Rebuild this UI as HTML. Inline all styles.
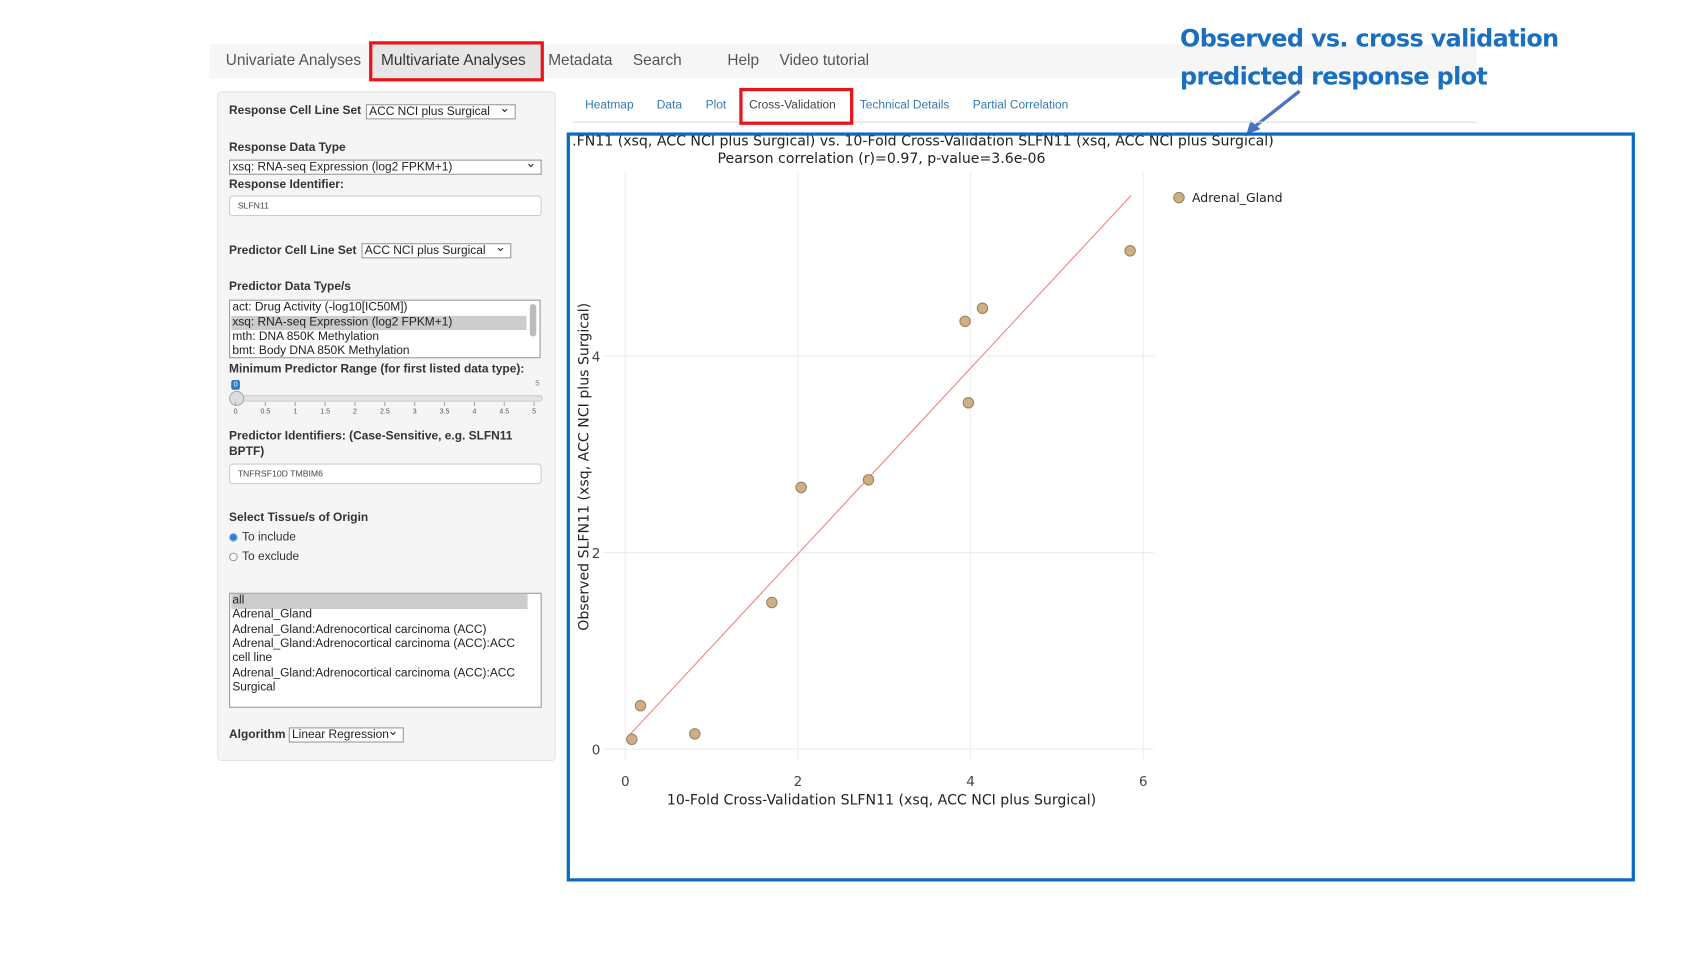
<!DOCTYPE html>
<html><head><meta charset="utf-8"><style>
html,body{margin:0;padding:0;background:#fff;width:1700px;height:956px;overflow:hidden}
#w{position:absolute;left:0;top:0;width:1566px;height:881px;transform:scale(1.0856);transform-origin:0 0;font-family:"Liberation Sans",Arial,sans-serif}
.a{position:absolute;white-space:nowrap}
.nav{color:#555;font-size:14.2px;top:48px}
.lb{font-weight:bold;font-size:11px;color:#333}
.sel{position:absolute;background:#fff;border:1px solid #999;font-size:11px;line-height:12px;padding-left:2px;box-sizing:border-box;color:#222}
.sel:after{content:"⌄";position:absolute;right:4px;top:-4px;font-size:12px}
.inp{position:absolute;background:#fff;border:1px solid #ccc;border-radius:3px;font-size:8px;color:#444;padding-left:7px;box-sizing:border-box}
.tab{color:#337ab7;font-size:11px;top:91px}
.row{position:absolute;left:1px;right:12px;font-size:11px;height:13.5px;line-height:13px;color:#222;padding-left:1px}
</style></head><body><div id="w">
<!-- navbar -->
<div class="a" style="left:193px;top:41px;width:1167px;height:31px;background:#f6f6f6"></div>
<div class="a" style="left:343px;top:41px;width:155px;height:31px;background:#e6e6e6"></div>
<div class="a nav" style="left:208px">Univariate Analyses</div>
<div class="a nav" style="left:351px;color:#333">Multivariate Analyses</div>
<div class="a nav" style="left:505px">Metadata</div>
<div class="a nav" style="left:583px">Search</div>
<div class="a nav" style="left:670px">Help</div>
<div class="a nav" style="left:718px">Video tutorial</div>
<div class="a" style="left:340px;top:38px;width:155px;height:31px;border:3px solid #e8141b"></div>
<!-- annotation -->
<div class="a" style="left:1087px;top:19px;font-family:'DejaVu Sans',sans-serif;font-weight:bold;font-size:22px;color:#1a6fc0;letter-spacing:-0.6px;line-height:35px">Observed vs. cross validation<br>predicted response plot</div>
<svg class="a" style="left:1140px;top:80px" width="70" height="50"><line x1="57" y1="4" x2="14" y2="38" stroke="#4a72c4" stroke-width="3"/><polygon points="8,44 12,31 21,39" fill="#4a72c4"/></svg>
<!-- left panel -->
<div class="a" style="left:200px;top:84px;width:310px;height:615px;background:#f5f5f5;border:1px solid #e3e3e3;border-radius:4px"></div>
<div class="a lb" style="left:211px;top:96px">Response Cell Line Set</div>
<div class="sel" style="left:337px;top:96px;width:138px;height:14px">ACC NCI plus Surgical</div>
<div class="a lb" style="left:211px;top:130px">Response Data Type</div>
<div class="sel" style="left:211px;top:147px;width:288px;height:14px">xsq: RNA-seq Expression (log2 FPKM+1)</div>
<div class="a lb" style="left:211px;top:164px">Response Identifier:</div>
<div class="inp" style="left:211px;top:180px;width:288px;height:19px;line-height:18px">SLFN11</div>
<div class="a lb" style="left:211px;top:225px">Predictor Cell Line Set</div>
<div class="sel" style="left:333px;top:224px;width:138px;height:14px">ACC NCI plus Surgical</div>
<div class="a lb" style="left:211px;top:258px">Predictor Data Type/s</div>
<div class="a" style="left:211px;top:276px;width:287px;height:54px;background:#fff;border:1px solid #999;box-sizing:border-box">
<div class="row" style="top:0">act: Drug Activity (-log10[IC50M])</div>
<div class="row" style="top:13.5px;background:#ccc">xsq: RNA-seq Expression (log2 FPKM+1)</div>
<div class="row" style="top:27px">mth: DNA 850K Methylation</div>
<div class="row" style="top:40px">bmt: Body DNA 850K Methylation</div>
<div class="a" style="right:3px;top:3px;width:6px;height:30px;background:#bbb;border-radius:3px"></div>
</div>
<div class="a lb" style="left:211px;top:334px">Minimum Predictor Range (for first listed data type):</div>
<div class="a" style="left:213px;top:350px;width:8px;height:9px;background:#2d79c7;border-radius:2px;color:#fff;font-size:7px;text-align:center;line-height:9px">0</div>
<div class="a" style="left:493px;top:350px;font-size:7px;color:#777">5</div>
<div class="a" style="left:217px;top:364px;width:281px;height:4px;background:#e4e4e4;border:1px solid #ccc;border-radius:3px"></div>
<div class="a" style="left:211px;top:360px;width:12px;height:12px;background:#ddd;border:1px solid #aaa;border-radius:50%"></div>
<svg class="a" style="left:210px;top:370px" width="295" height="16" font-family="Liberation Sans" font-size="6.5" fill="#555" text-anchor="middle">
<g stroke="#aaa"><line x1="7" y1="0" x2="7" y2="4"/><line x1="34.5" y1="0" x2="34.5" y2="4"/><line x1="62" y1="0" x2="62" y2="4"/><line x1="89.5" y1="0" x2="89.5" y2="4"/><line x1="117" y1="0" x2="117" y2="4"/><line x1="144.5" y1="0" x2="144.5" y2="4"/><line x1="172" y1="0" x2="172" y2="4"/><line x1="199.5" y1="0" x2="199.5" y2="4"/><line x1="227" y1="0" x2="227" y2="4"/><line x1="254.5" y1="0" x2="254.5" y2="4"/><line x1="282" y1="0" x2="282" y2="4"/></g>
<text x="7" y="11">0</text><text x="34.5" y="11">0.5</text><text x="62" y="11">1</text><text x="89.5" y="11">1.5</text><text x="117" y="11">2</text><text x="144.5" y="11">2.5</text><text x="172" y="11">3</text><text x="199.5" y="11">3.5</text><text x="227" y="11">4</text><text x="254.5" y="11">4.5</text><text x="282" y="11">5</text></svg>
<div class="a lb" style="left:211px;top:395px;line-height:14px">Predictor Identifiers: (Case-Sensitive, e.g. SLFN11<br>BPTF)</div>
<div class="inp" style="left:211px;top:427px;width:288px;height:19px;line-height:18px">TNFRSF10D TMBIM6</div>
<div class="a lb" style="left:211px;top:471px">Select Tissue/s of Origin</div>
<div class="a" style="left:211px;top:491px;width:6px;height:6px;border-radius:50%;background:#2a7de1;border:1px solid #8bb"></div>
<div class="a" style="left:223px;top:489px;font-size:11px;color:#333">To include</div>
<div class="a" style="left:211px;top:509px;width:6px;height:6px;border-radius:50%;background:#fff;border:1px solid #999"></div>
<div class="a" style="left:223px;top:507px;font-size:11px;color:#333">To exclude</div>
<div class="a" style="left:211px;top:546px;width:288px;height:106px;background:#fff;border:1px solid #999;box-sizing:border-box">
<div class="row" style="top:0;background:#ccc">all</div>
<div class="row" style="top:13.3px">Adrenal_Gland</div>
<div class="row" style="top:26.6px">Adrenal_Gland:Adrenocortical carcinoma (ACC)</div>
<div class="row" style="top:40px">Adrenal_Gland:Adrenocortical carcinoma (ACC):ACC</div>
<div class="row" style="top:53.3px">cell line</div>
<div class="row" style="top:66.6px">Adrenal_Gland:Adrenocortical carcinoma (ACC):ACC</div>
<div class="row" style="top:80px">Surgical</div>
</div>
<div class="a lb" style="left:211px;top:671px">Algorithm</div>
<div class="sel" style="left:266px;top:670px;width:106px;height:14px">Linear Regression</div>
<!-- tabs -->
<div class="a" style="left:527px;top:112px;width:833px;height:1px;background:#ddd"></div>
<div class="a tab" style="left:539px">Heatmap</div>
<div class="a tab" style="left:605px">Data</div>
<div class="a tab" style="left:650px">Plot</div>
<div class="a tab" style="left:690px;color:#444">Cross-Validation</div>
<div class="a tab" style="left:792px">Technical Details</div>
<div class="a tab" style="left:896px">Partial Correlation</div>
<div class="a" style="left:681px;top:81px;width:99px;height:28px;border:3px solid #e8141b"></div>
<!-- plot -->
<svg class="a" style="left:0;top:0" width="1566" height="881" font-family="'DejaVu Sans',sans-serif">
<g stroke="#eee" stroke-width="1">
<line x1="576" y1="158" x2="576" y2="700"/><line x1="735" y1="158" x2="735" y2="700"/><line x1="894" y1="158" x2="894" y2="700"/><line x1="1053" y1="158" x2="1053" y2="700"/>
<line x1="555" y1="690" x2="1063" y2="690"/><line x1="555" y1="509" x2="1063" y2="509"/><line x1="555" y1="328" x2="1063" y2="328"/>
</g>
<g font-size="12.5" fill="#444" text-anchor="middle">
<text x="576" y="724">0</text><text x="735" y="724">2</text><text x="894" y="724">4</text><text x="1053" y="724">6</text>
</g>
<g font-size="12.5" fill="#444" text-anchor="end">
<text x="553" y="695">0</text><text x="553" y="514">2</text><text x="553" y="333">4</text>
</g>
<text x="812" y="741" font-size="13" fill="#222" text-anchor="middle">10-Fold Cross-Validation SLFN11 (xsq, ACC NCI plus Surgical)</text>
<text transform="translate(542,430) rotate(-90)" font-size="13" fill="#222" text-anchor="middle">Observed SLFN11 (xsq, ACC NCI plus Surgical)</text>
<text x="527" y="134" font-size="13" fill="#222">.FN11 (xsq, ACC NCI plus Surgical) vs. 10-Fold Cross-Validation SLFN11 (xsq, ACC NCI plus Surgical)</text>
<text x="812" y="150" font-size="13" fill="#222" text-anchor="middle">Pearson correlation (r)=0.97, p-value=3.6e-06</text>
<line x1="579" y1="678" x2="1042" y2="180" stroke="#f08080" stroke-width="1"/>
<g fill="#cdae85" stroke="#9c8462" stroke-width="1">
<circle cx="582" cy="681" r="4.8"/><circle cx="590" cy="650" r="4.8"/><circle cx="640" cy="676" r="4.8"/><circle cx="711" cy="555" r="4.8"/><circle cx="738" cy="449" r="4.8"/><circle cx="800" cy="442" r="4.8"/><circle cx="889" cy="296" r="4.8"/><circle cx="905" cy="284" r="4.8"/><circle cx="892" cy="371" r="4.8"/><circle cx="1041" cy="231" r="4.8"/>
<circle cx="1086" cy="182" r="4.8"/>
</g>
<text x="1098" y="186" font-size="11.5" fill="#222">Adrenal_Gland</text>
</svg>
<div class="a" style="left:522px;top:122px;width:978px;height:684px;border:3.5px solid #0b6bc2"></div>
</div></body></html>
